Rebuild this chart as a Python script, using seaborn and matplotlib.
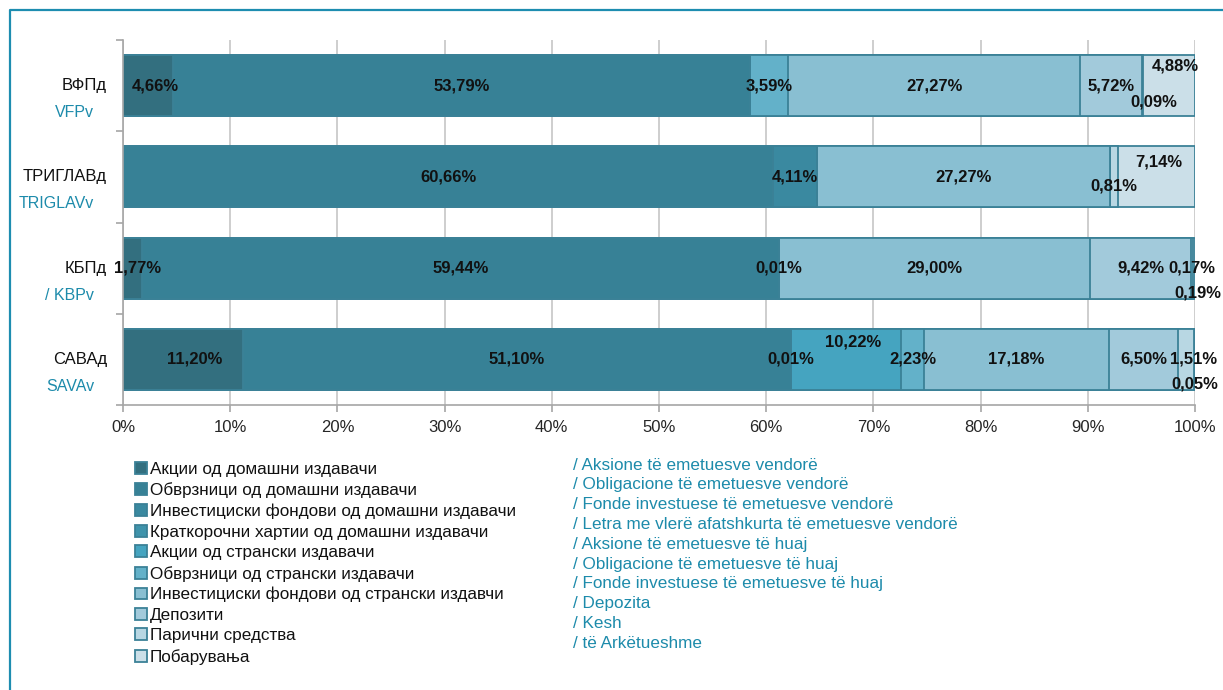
import matplotlib
matplotlib.use("Agg")
import matplotlib.pyplot as plt
from matplotlib.lines import Line2D
import numpy as np
import pandas as pd
import seaborn as sns

# ---------------- data ----------------
funds = ["ВФПд", "ТРИГЛАВд", "КБПд", "САВАд"]
funds_latin = ["VFPv", "TRIGLAVv", "/ KBPv", "SAVAv"]

series_mk = [
    "Акции од домашни издавачи",
    "Обврзници од домашни издавачи",
    "Инвестициски фондови од домашни издавачи",
    "Краткорочни хартии од домашни издавачи",
    "Акции од странски издавачи",
    "Обврзници од странски издавачи",
    "Инвестициски фондови од странски издавчи",
    "Депозити",
    "Парични средства",
    "Побарувања",
]
series_sq = [
    "/ Aksione të emetuesve vendorë",
    "/ Obligacione të emetuesve vendorë",
    "/ Fonde investuese të emetuesve vendorë",
    "/ Letra me vlerë afatshkurta të emetuesve vendorë",
    "/ Aksione të emetuesve të huaj",
    "/ Obligacione të emetuesve të huaj",
    "/ Fonde investuese të emetuesve të huaj",
    "/ Depozita",
    "/ Kesh",
    "/ të Arkëtueshme",
]

akcii_dom = [4.66, 0.00, 1.77, 11.20]
obvrznici_dom = [53.79, 60.66, 59.44, 51.10]
inv_fondovi_dom = [0.00, 4.11, 0.00, 0.01]
kratkorocni_dom = [0.00, 0.00, 0.00, 0.00]
akcii_str = [0.00, 0.00, 0.00, 10.22]
obvrznici_str = [3.59, 0.00, 0.01, 2.23]
inv_fondovi_str = [27.27, 27.27, 29.00, 17.18]
depoziti = [5.72, 0.00, 9.42, 6.50]
paricni = [0.09, 0.81, 0.17, 1.51]
pobaruvanja = [4.88, 7.14, 0.19, 0.05]

xticks = [0, 10, 20, 30, 40, 50, 60, 70, 80, 90, 100]

# ---------------- style ----------------
colors = ["#336f7f", "#378196", "#3a89a0", "#3f93ab", "#45a4c0",
          "#63b1c9", "#89bfd2", "#a2cadb", "#b8d7e3", "#cbdfe8"]
edge = "#3b8197"
teal_text = "#1d8bab"

sns.set_style("white")
plt.rcParams["font.family"] = ["Liberation Sans", "DejaVu Sans"]

W, H = 1223, 690
fig = plt.figure(figsize=(W / 100, H / 100), dpi=100)
ax = fig.add_axes([123 / W, 1 - 405 / H, (1195 - 123) / W, (405 - 40) / H])

values = np.array([akcii_dom, obvrznici_dom, inv_fondovi_dom, kratkorocni_dom,
                   akcii_str, obvrznici_str, inv_fondovi_str, depoziti,
                   paricni, pobaruvanja])
cum = np.cumsum(values, axis=0)
starts = cum - values

ax.set_axisbelow(True)
ax.grid(axis="x", color="#c6c6c6", linewidth=1.2)
ax.grid(axis="y", visible=False)

for i in range(len(series_mk) - 1, -1, -1):
    df = pd.DataFrame({"fund": funds, "cum": cum[i]})
    sns.barplot(data=df, x="cum", y="fund", orient="h", color=colors[i],
                saturation=1, width=0.67, edgecolor=edge, linewidth=1.3,
                errorbar=None, ax=ax, label=series_mk[i])

h, l = ax.get_legend_handles_labels()
if ax.get_legend() is not None:
    ax.get_legend().remove()

ax.set_xlim(0, 100)
ax.set_ylim(3.5, -0.5)
ax.set_xticks(xticks)
ax.set_xticklabels([f"{t}%" for t in xticks], fontsize=12, color="#262626")
ax.set_xlabel("")
ax.set_ylabel("")
ax.set_yticks([])
ax.set_yticks(np.arange(-0.5, 4.0, 1.0), minor=True)
ax.tick_params(axis="y", which="minor", length=5, color="#a6a6a6", width=1.2, left=True)
ax.tick_params(axis="x", length=5, color="#a6a6a6", width=1.2, bottom=True, pad=6)
for s in ["top", "right"]:
    ax.spines[s].set_visible(False)
for s in ["left", "bottom"]:
    ax.spines[s].set_color("#a6a6a6")
    ax.spines[s].set_linewidth(1.2)

# category labels (two lines, two colours)
for j in range(len(funds)):
    ax.annotate(funds[j], xy=(0, j), xycoords=("axes fraction", "data"),
                xytext=(-16, 0), textcoords="offset pixels",
                ha="right", va="center", fontsize=12, color="#111111")
    ax.annotate(funds_latin[j], xy=(0, j), xycoords=("axes fraction", "data"),
                xytext=(-29, -27), textcoords="offset pixels",
                ha="right", va="center", fontsize=11.5, color=teal_text)

# data labels
label_offsets = {
    (0, 0): (7, 0), (0, 8): (12, -16), (0, 9): (6, 20),
    (1, 8): (0, -9), (1, 9): (2, 15),
    (2, 0): (5, 0), (2, 9): (4, -25),
    (3, 0): (12, 0), (3, 4): (7, 17), (3, 8): (7, 0), (3, 9): (0, -25),
}
for i in range(values.shape[0]):
    for j in range(values.shape[1]):
        v = values[i, j]
        if v <= 0:
            continue
        cx = starts[i, j] + v / 2
        dx, dy = label_offsets.get((j, i), (0, 0))
        ax.annotate(f"{v:.2f}%".replace(".", ","), xy=(cx, j), xytext=(dx, dy),
                    textcoords="offset pixels", ha="center", va="center",
                    fontsize=12, fontweight="bold", color="#111111",
                    annotation_clip=False)

# legend
order = [l.index(name) for name in series_mk]
leg = fig.legend([h[k] for k in order], [l[k] for k in order], loc="upper left",
                 bbox_to_anchor=(135 / W, 1 - 462 / H), frameon=False, fontsize=12.3,
                 handlelength=0.7, handleheight=0.7, handletextpad=0.15,
                 labelspacing=0.32, borderpad=0, borderaxespad=0)
for t in leg.get_texts():
    t.set_color("#111111")

for k, txt in enumerate(series_sq):
    fig.text(573 / W, 1 - (465 + 19.8 * k) / H, txt, ha="left", va="center",
             fontsize=12.3, color=teal_text)

# outer frame (left and top)
fig.add_artist(Line2D([10 / W, 10 / W, 1.0], [0.0, 1 - 10 / H, 1 - 10 / H],
                      transform=fig.transFigure, color="#1d8db0", linewidth=1.6))

fig.savefig("out.png", dpi=100)
